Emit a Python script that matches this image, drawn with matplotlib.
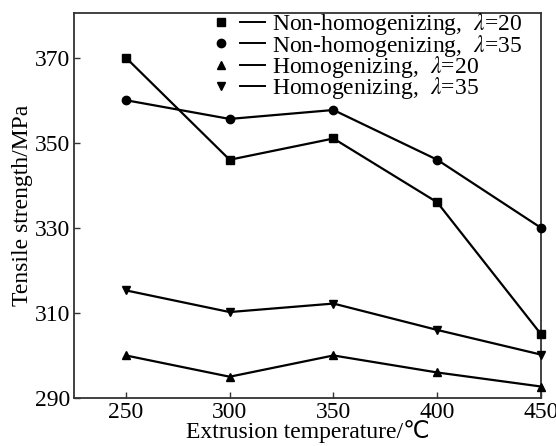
import matplotlib
matplotlib.use("Agg")
import matplotlib.pyplot as plt
from matplotlib.lines import Line2D
from matplotlib.legend_handler import HandlerTuple

plt.rcParams['font.family'] = ['Liberation Serif', 'DejaVu Sans']
plt.rcParams['mathtext.fontset'] = 'stix'

temps = [250, 300, 350, 400, 450]
nonhom_20 = [370, 346, 351, 336, 305]
nonhom_35 = [360, 355.6, 357.7, 346, 330]
hom_20 = [300, 295, 300, 296, 292.7]
hom_35 = [315.3, 310.2, 312.2, 306, 300.2]
labels = ["Non-homogenizing,  $\\lambda$=20", "Non-homogenizing,  $\\lambda$=35",
          "Homogenizing,  $\\lambda$=20", "Homogenizing,  $\\lambda$=35"]
markers = ['s', 'o', '^', 'v']
series = [nonhom_20, nonhom_35, hom_20, hom_35]
xticks = [250, 300, 350, 400, 450]
yticks = [290, 310, 330, 350, 370]

fig = plt.figure(figsize=(5.56, 4.46), dpi=100)
ax = fig.add_axes([74/556, 48/446, (541-74)/556, (398-13)/446])

handles = []
for ys, m in zip(series, markers):
    ax.plot(temps, ys, color='black', lw=1.6, marker=m, ms=6, clip_on=False, zorder=3)
    hm = Line2D([], [], color='black', marker=m, ms=6, ls='none')
    hl = Line2D([], [], color='black', lw=1.4)
    handles.append((hm, hl))

ax.set_xlim(225, 450)
ax.set_ylim(290, 380.5)
ax.set_xticks(xticks)
ax.set_yticks(yticks)
ax.tick_params(direction='in', labelsize=17, length=4, width=1, pad=3, colors='#333333',
               labelcolor='black')
for s in ax.spines.values():
    s.set_linewidth(1.3)
    s.set_color('#333333')
ax.set_xlabel("Extrusion temperature/℃", fontsize=17, labelpad=-2)
ax.set_ylabel("Tensile strength/MPa", fontsize=17, labelpad=1)

leg = ax.legend(handles, labels, handler_map={tuple: HandlerTuple(ndivide=None, pad=0.3)},
                loc='upper right', frameon=False, fontsize=17, handlelength=2.4,
                handletextpad=0.3, labelspacing=-0.2, borderaxespad=0.1,
                bbox_to_anchor=(0.985, 1.035))

fig.savefig("out.png", dpi=100)
